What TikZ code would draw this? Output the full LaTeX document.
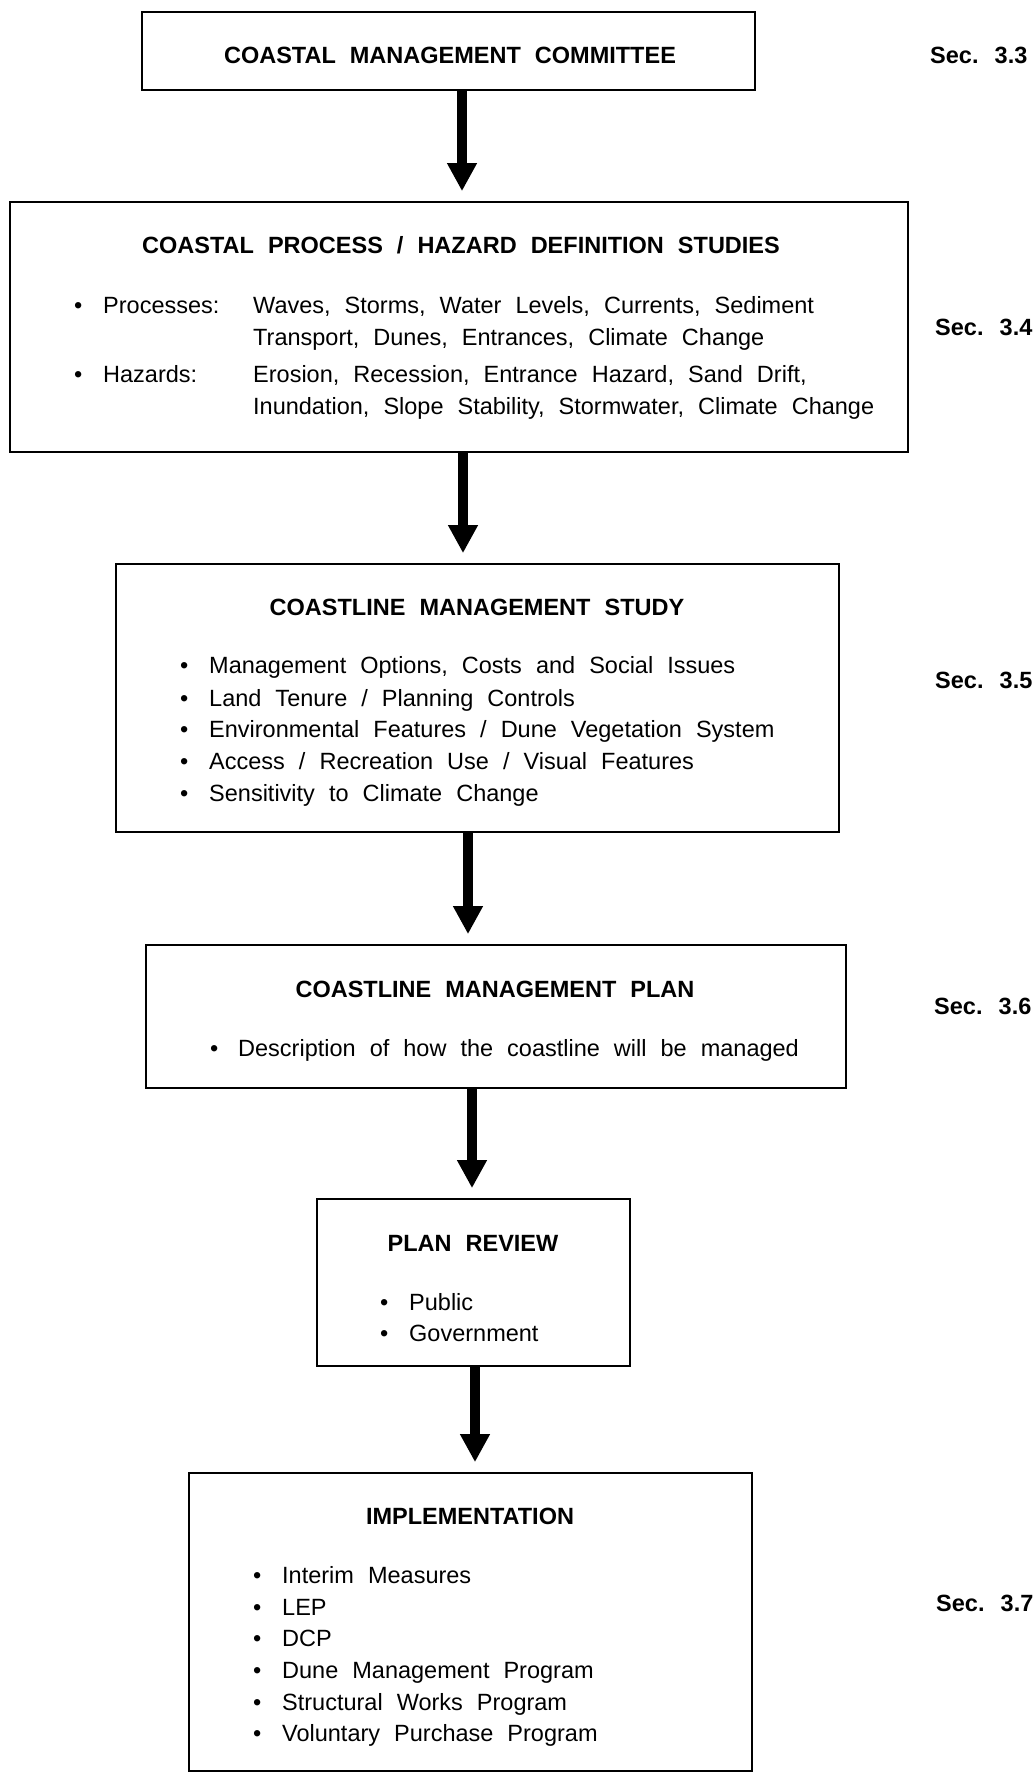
\documentclass[tikz,border=0pt]{standalone}
\usepackage{fontspec}
\setmainfont[WordSpace=2.15]{Liberation Sans}
\usetikzlibrary{arrows.meta}
\begin{document}
\fontsize{23.5}{28}\selectfont
\begin{tikzpicture}[x=1pt,y=-1pt,
  box/.style={draw,line width=1.7pt,inner sep=0pt},
  ttl/.style={font=\bfseries,anchor=base,inner sep=0pt},
  txt/.style={anchor=base west,inner sep=0pt},
  sec/.style={font=\bfseries,anchor=base west,inner sep=0pt},
  flow/.style={line width=10pt,shorten >=10pt,-{Triangle[length=28pt,width=28pt]}}]
\useasboundingbox (0,0) rectangle (1035,1773);
% boxes
\node[box,minimum width=613pt,minimum height=78pt] (b1) at (448.5,51) {};
\node[box,minimum width=898pt,minimum height=250pt] (b2) at (459,327) {};
\node[box,minimum width=723pt,minimum height=268pt] (b3) at (477.5,698) {};
\node[box,minimum width=700pt,minimum height=143pt] (b4) at (496,1016.5) {};
\node[box,minimum width=313pt,minimum height=167pt] (b5) at (473.5,1282.5) {};
\node[box,minimum width=563pt,minimum height=298pt] (b6) at (470.5,1622) {};
% arrows
\coordinate (c1) at (462,0);
\coordinate (c2) at (463,0);
\coordinate (c3) at (468,0);
\coordinate (c4) at (472,0);
\coordinate (c5) at (475,0);
\draw[flow] (b1.south -| c1) -- (b2.north -| c1);
\draw[flow] (b2.south -| c2) -- (b3.north -| c2);
\draw[flow] (b3.south -| c3) -- (b4.north -| c3);
\draw[flow] (b4.south -| c4) -- (b5.north -| c4);
\draw[flow] (b5.south -| c5) -- (b6.north -| c5);
% box 1
\node[ttl] (t1) at (450,63) {COASTAL MANAGEMENT COMMITTEE};
\node[sec] (s1) at (930,63) {Sec. 3.3};
% box 2
\node[ttl] (t2) at (461,253) {COASTAL PROCESS / HAZARD DEFINITION STUDIES};
\node[txt] (p0) at (74,313) {\textbullet};
\node[txt] (p1) at (103,313) {Processes:};
\node[txt] (p2) at (253,313) {Waves, Storms, Water Levels, Currents, Sediment};
\node[txt] (p3) at (253,345) {Transport, Dunes, Entrances, Climate Change};
\node[txt] (h0) at (74,382) {\textbullet};
\node[txt] (h1) at (103,382) {Hazards:};
\node[txt] (h2) at (253,382) {Erosion, Recession, Entrance Hazard, Sand Drift,};
\node[txt] (h3) at (253,414) {Inundation, Slope Stability, Stormwater, Climate Change};
\node[sec] (s2) at (935,335) {Sec. 3.4};
% box 3
\node[ttl] (t3) at (477,615) {COASTLINE MANAGEMENT STUDY};
\node[txt] (m0a) at (180,673) {\textbullet};
\node[txt] (m1) at (209,673) {Management Options, Costs and Social Issues};
\node[txt] (m0b) at (180,706) {\textbullet};
\node[txt] (m2) at (209,706) {Land Tenure / Planning Controls};
\node[txt] (m0c) at (180,737) {\textbullet};
\node[txt] (m3) at (209,737) {Environmental Features / Dune Vegetation System};
\node[txt] (m0d) at (180,769) {\textbullet};
\node[txt] (m4) at (209,769) {Access / Recreation Use / Visual Features};
\node[txt] (m0e) at (180,801) {\textbullet};
\node[txt] (m5) at (209,801) {Sensitivity to Climate Change};
\node[sec] (s3) at (935,688) {Sec. 3.5};
% box 4
\node[ttl] (t4) at (495,997) {COASTLINE MANAGEMENT PLAN};
\node[txt] (d0) at (210,1056) {\textbullet};
\node[txt] (d1) at (238,1056) {Description of how the coastline will be managed};
\node[sec] (s4) at (934,1014) {Sec. 3.6};
% box 5
\node[ttl] (t5) at (473,1251) {PLAN REVIEW};
\node[txt] (r0a) at (380,1310) {\textbullet};
\node[txt] (r1) at (409,1310) {Public};
\node[txt] (r0b) at (380,1341) {\textbullet};
\node[txt] (r2) at (409,1341) {Government};
% box 6
\node[ttl] (t6) at (470,1524) {IMPLEMENTATION};
\node[txt] (i0a) at (253,1583) {\textbullet};
\node[txt] (i1) at (282,1583) {Interim Measures};
\node[txt] (i0b) at (253,1615) {\textbullet};
\node[txt] (i2) at (282,1615) {LEP};
\node[txt] (i0c) at (253,1646) {\textbullet};
\node[txt] (i3) at (282,1646) {DCP};
\node[txt] (i0d) at (253,1678) {\textbullet};
\node[txt] (i4) at (282,1678) {Dune Management Program};
\node[txt] (i0e) at (253,1710) {\textbullet};
\node[txt] (i5) at (282,1710) {Structural Works Program};
\node[txt] (i0f) at (253,1741) {\textbullet};
\node[txt] (i6) at (282,1741) {Voluntary Purchase Program};
\node[sec] (s5) at (936,1611) {Sec. 3.7};
\end{tikzpicture}
\end{document}
